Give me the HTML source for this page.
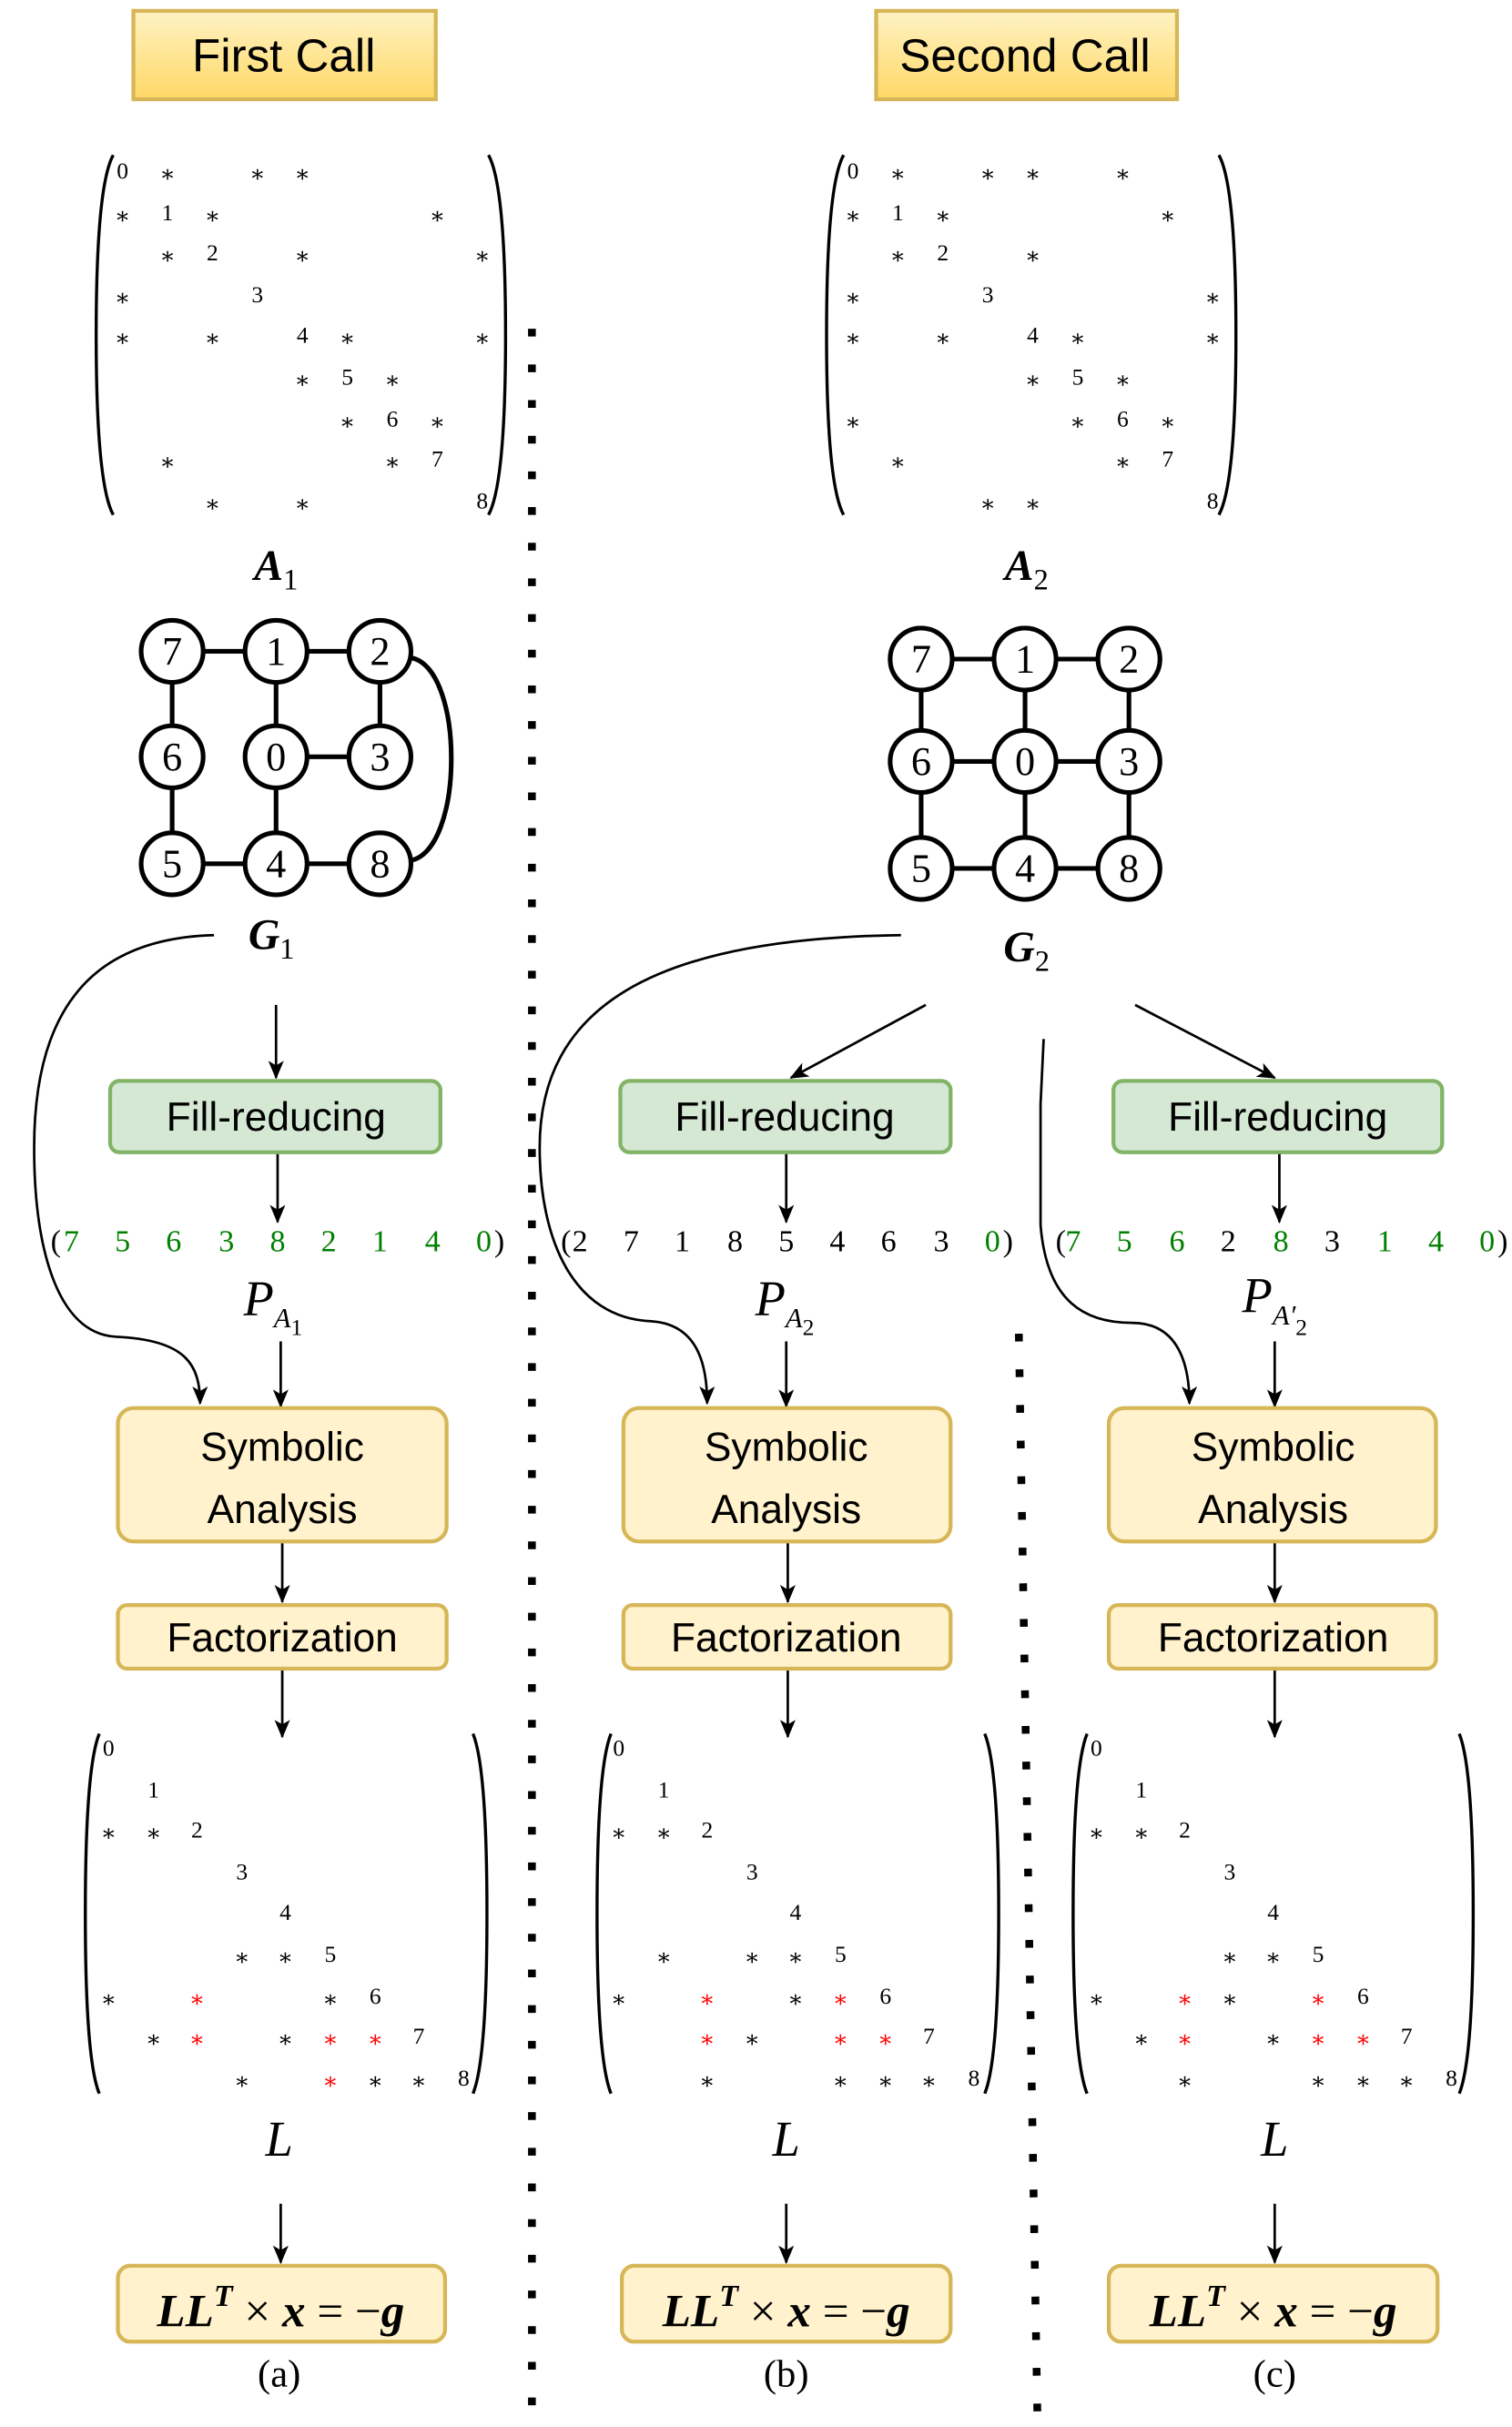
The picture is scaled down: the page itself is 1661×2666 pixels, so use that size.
<!DOCTYPE html>
<html><head><meta charset="utf-8"><style>html,body{margin:0;padding:0;background:#fff}svg{display:block}</style></head>
<body>
<svg width="1661" height="2666" viewBox="0 0 975 1565" xmlns="http://www.w3.org/2000/svg">
<defs>
<linearGradient id="gy" x1="0" y1="0" x2="0" y2="1"><stop offset="0" stop-color="#fff2c4"/><stop offset="1" stop-color="#ffd966"/></linearGradient>
<marker id="ar" viewBox="0 0 12 10" refX="11" refY="5" markerWidth="12" markerHeight="10" markerUnits="userSpaceOnUse" orient="auto"><path d="M0,0 L12,5 L0,10 L3,5 z" fill="#000"/></marker>
</defs>
<rect width="975" height="1565" fill="#fff"/>
<!-- titles -->
<rect x="86" y="7" width="195" height="57" fill="url(#gy)" stroke="#d6b656" stroke-width="2.5"/>
<text x="183" y="46" font-family="Liberation Sans, sans-serif" font-size="30" text-anchor="middle">First Call</text>
<rect x="565" y="7" width="194" height="57" fill="url(#gy)" stroke="#d6b656" stroke-width="2.5"/>
<text x="661" y="46" font-family="Liberation Sans, sans-serif" font-size="30" text-anchor="middle">Second Call</text>

<!-- dotted separators -->
<line x1="343" y1="212" x2="343" y2="1560" stroke="#000" stroke-width="5" stroke-dasharray="5 18"/>
<line x1="657" y1="860" x2="669" y2="1560" stroke="#000" stroke-width="5" stroke-dasharray="5 18"/>

<g fill="none" stroke="#000" stroke-width="2">
<!-- A1 parens -->
<path d="M73,100 Q62,120 62,216 Q62,312 73,332"/><path d="M315,100 Q326,120 326,216 Q326,312 315,332"/>
<path d="M544,100 Q533,120 533,216 Q533,312 544,332"/><path d="M786,100 Q797,120 797,216 Q797,312 786,332"/>
<!-- L parens -->
<path d="M64,1118 Q55,1140 55,1234 Q55,1328 64,1350"/><path d="M305,1118 Q314,1140 314,1234 Q314,1328 305,1350"/>
<path d="M394,1118 Q385,1140 385,1234 Q385,1328 394,1350"/><path d="M635,1118 Q644,1140 644,1234 Q644,1328 635,1350"/>
<path d="M701,1118 Q692,1140 692,1234 Q692,1328 701,1350"/><path d="M941,1118 Q950,1140 950,1234 Q950,1328 941,1350"/>
</g>

<g font-family="Liberation Serif, DejaVu Serif, serif" font-size="15" text-anchor="middle" dominant-baseline="central">
<!-- A1 -->
<text x="79" y="110">0</text><text x="108" y="112">∗</text><text x="166" y="112">∗</text><text x="195" y="112">∗</text>
<text x="79" y="139">∗</text><text x="108" y="137">1</text><text x="137" y="139">∗</text><text x="282" y="139">∗</text>
<text x="108" y="165">∗</text><text x="137" y="163">2</text><text x="195" y="165">∗</text><text x="311" y="165">∗</text>
<text x="79" y="192">∗</text><text x="166" y="190">3</text>
<text x="79" y="218">∗</text><text x="137" y="218">∗</text><text x="195" y="216">4</text><text x="224" y="218">∗</text><text x="311" y="218">∗</text>
<text x="195" y="245">∗</text><text x="224" y="243">5</text><text x="253" y="245">∗</text>
<text x="224" y="272">∗</text><text x="253" y="270">6</text><text x="282" y="272">∗</text>
<text x="108" y="298">∗</text><text x="253" y="298">∗</text><text x="282" y="296">7</text>
<text x="137" y="325">∗</text><text x="195" y="325">∗</text><text x="311" y="323">8</text>
<!-- A2 -->
<text x="550" y="110">0</text><text x="579" y="112">∗</text><text x="637" y="112">∗</text><text x="666" y="112">∗</text><text x="724" y="112">∗</text>
<text x="550" y="139">∗</text><text x="579" y="137">1</text><text x="608" y="139">∗</text><text x="753" y="139">∗</text>
<text x="579" y="165">∗</text><text x="608" y="163">2</text><text x="666" y="165">∗</text>
<text x="550" y="192">∗</text><text x="637" y="190">3</text><text x="782" y="192">∗</text>
<text x="550" y="218">∗</text><text x="608" y="218">∗</text><text x="666" y="216">4</text><text x="695" y="218">∗</text><text x="782" y="218">∗</text>
<text x="666" y="245">∗</text><text x="695" y="243">5</text><text x="724" y="245">∗</text>
<text x="550" y="272">∗</text><text x="695" y="272">∗</text><text x="724" y="270">6</text><text x="753" y="272">∗</text>
<text x="579" y="298">∗</text><text x="724" y="298">∗</text><text x="753" y="296">7</text>
<text x="637" y="325">∗</text><text x="666" y="325">∗</text><text x="782" y="323">8</text>

<!-- L a -->
<text x="70" y="1127">0</text><text x="99" y="1154">1</text>
<text x="70" y="1182">∗</text><text x="99" y="1182">∗</text><text x="127" y="1180">2</text>
<text x="156" y="1207">3</text><text x="184" y="1233">4</text>
<text x="156" y="1262">∗</text><text x="184" y="1262">∗</text><text x="213" y="1260">5</text>
<text x="70" y="1289">∗</text><text x="127" y="1289" fill="#f00">∗</text><text x="213" y="1289">∗</text><text x="242" y="1287">6</text>
<text x="99" y="1315">∗</text><text x="127" y="1315" fill="#f00">∗</text><text x="184" y="1315">∗</text><text x="213" y="1315" fill="#f00">∗</text><text x="242" y="1315" fill="#f00">∗</text><text x="270" y="1313">7</text>
<text x="156" y="1342">∗</text><text x="213" y="1342" fill="#f00">∗</text><text x="242" y="1342">∗</text><text x="270" y="1342">∗</text><text x="299" y="1340">8</text>
<!-- L b -->
<text x="399" y="1127">0</text><text x="428" y="1154">1</text>
<text x="399" y="1182">∗</text><text x="428" y="1182">∗</text><text x="456" y="1180">2</text>
<text x="485" y="1207">3</text><text x="513" y="1233">4</text>
<text x="428" y="1262">∗</text><text x="485" y="1262">∗</text><text x="513" y="1262">∗</text><text x="542" y="1260">5</text>
<text x="399" y="1289">∗</text><text x="456" y="1289" fill="#f00">∗</text><text x="513" y="1289">∗</text><text x="542" y="1289" fill="#f00">∗</text><text x="571" y="1287">6</text>
<text x="456" y="1315" fill="#f00">∗</text><text x="485" y="1315">∗</text><text x="542" y="1315" fill="#f00">∗</text><text x="571" y="1315" fill="#f00">∗</text><text x="599" y="1313">7</text>
<text x="456" y="1342">∗</text><text x="542" y="1342">∗</text><text x="571" y="1342">∗</text><text x="599" y="1342">∗</text><text x="628" y="1340">8</text>
<!-- L c -->
<text x="707" y="1127">0</text><text x="736" y="1154">1</text>
<text x="707" y="1182">∗</text><text x="736" y="1182">∗</text><text x="764" y="1180">2</text>
<text x="793" y="1207">3</text><text x="821" y="1233">4</text>
<text x="793" y="1262">∗</text><text x="821" y="1262">∗</text><text x="850" y="1260">5</text>
<text x="707" y="1289">∗</text><text x="764" y="1289" fill="#f00">∗</text><text x="793" y="1289">∗</text><text x="850" y="1289" fill="#f00">∗</text><text x="879" y="1287">6</text>
<text x="736" y="1315">∗</text><text x="764" y="1315" fill="#f00">∗</text><text x="821" y="1315">∗</text><text x="850" y="1315" fill="#f00">∗</text><text x="879" y="1315" fill="#f00">∗</text><text x="907" y="1313">7</text>
<text x="764" y="1342">∗</text><text x="850" y="1342">∗</text><text x="879" y="1342">∗</text><text x="907" y="1342">∗</text><text x="936" y="1340">8</text>
</g>

<!-- math labels -->
<g font-family="Liberation Serif, DejaVu Serif, serif" font-style="italic" font-weight="bold" font-size="28" text-anchor="middle">
<text x="178" y="374">A<tspan font-size="19" font-style="normal" font-weight="normal" dy="6">1</tspan></text>
<text x="662" y="374">A<tspan font-size="19" font-style="normal" font-weight="normal" dy="6">2</tspan></text>
<text x="175" y="612">G<tspan font-size="19" font-style="normal" font-weight="normal" dy="6">1</tspan></text>
<text x="662" y="620">G<tspan font-size="19" font-style="normal" font-weight="normal" dy="6">2</tspan></text>
<text x="180" y="1390" font-weight="normal" font-size="32">L</text>
<text x="507" y="1390" font-weight="normal" font-size="32">L</text>
<text x="822" y="1390" font-weight="normal" font-size="32">L</text>
<text x="176" y="848" font-weight="normal" font-size="32">P<tspan font-size="18" dy="8">A</tspan><tspan font-size="15" font-style="normal" dy="5">1</tspan></text>
<text x="506" y="848" font-weight="normal" font-size="32">P<tspan font-size="18" dy="8">A</tspan><tspan font-size="15" font-style="normal" dy="5">2</tspan></text>
<text x="822" y="846" font-weight="normal" font-size="32">P<tspan font-size="18" dy="8">A′</tspan><tspan font-size="15" font-style="normal" dy="7">2</tspan></text>
</g>

<!-- graphs -->
<g stroke="#000" stroke-width="3" fill="none">
<path d="M111,420H245M111,420V557M178,420V557M245,420V488M178,488H245M111,557H245"/>
<path d="M264,424 C300,428 300,550 264,555"/>
<path d="M594,425H728M594,491H728M594,560H728M594,425V560M661,425V560M728,425V560"/>
</g>
<g stroke="#000" stroke-width="3" fill="#fff">
<circle cx="111" cy="420" r="20"/><circle cx="178" cy="420" r="20"/><circle cx="245" cy="420" r="20"/>
<circle cx="111" cy="488" r="20"/><circle cx="178" cy="488" r="20"/><circle cx="245" cy="488" r="20"/>
<circle cx="111" cy="557" r="20"/><circle cx="178" cy="557" r="20"/><circle cx="245" cy="557" r="20"/>
<circle cx="594" cy="425" r="20"/><circle cx="661" cy="425" r="20"/><circle cx="728" cy="425" r="20"/>
<circle cx="594" cy="491" r="20"/><circle cx="661" cy="491" r="20"/><circle cx="728" cy="491" r="20"/>
<circle cx="594" cy="560" r="20"/><circle cx="661" cy="560" r="20"/><circle cx="728" cy="560" r="20"/>
</g>
<g font-family="Liberation Serif, serif" font-size="26" text-anchor="middle" dominant-baseline="central">
<text x="111" y="420">7</text><text x="178" y="420">1</text><text x="245" y="420">2</text>
<text x="111" y="488">6</text><text x="178" y="488">0</text><text x="245" y="488">3</text>
<text x="111" y="557">5</text><text x="178" y="557">4</text><text x="245" y="557">8</text>
<text x="594" y="425">7</text><text x="661" y="425">1</text><text x="728" y="425">2</text>
<text x="594" y="491">6</text><text x="661" y="491">0</text><text x="728" y="491">3</text>
<text x="594" y="560">5</text><text x="661" y="560">4</text><text x="728" y="560">8</text>
</g>

<!-- connectors -->
<g stroke="#000" stroke-width="1.6" fill="none" marker-end="url(#ar)">
<path d="M138,603 C60,605 22,650 22,740 C22,800 35,860 75,862 C120,864 129,880 129,905"/>
<path d="M581,603 C420,605 348,650 348,740 C348,800 370,850 420,852 C450,854 456,880 456,905"/>
<path d="M673,670 L671,712 L671,790 C675,840 700,853 730,853 C760,853 767,880 767,905"/>
<path d="M178,648 V695"/><path d="M179,743 V788"/><path d="M181,865 V907"/><path d="M182,995 V1033"/><path d="M182,1077 V1120"/><path d="M181,1421 V1459"/>
<path d="M597,648 L510,695"/><path d="M507,743 V788"/><path d="M507,865 V907"/><path d="M508,995 V1033"/><path d="M508,1077 V1120"/><path d="M507,1421 V1459"/>
<path d="M732,648 L822,695"/><path d="M825,743 V788"/><path d="M822,865 V907"/><path d="M822,995 V1033"/><path d="M822,1077 V1120"/><path d="M822,1421 V1459"/>
</g>

<!-- boxes -->
<g stroke-width="2.5">
<rect x="71" y="697" width="213" height="46" rx="6" fill="#d5e8d4" stroke="#82b366"/>
<rect x="400" y="697" width="213" height="46" rx="6" fill="#d5e8d4" stroke="#82b366"/>
<rect x="718" y="697" width="212" height="46" rx="6" fill="#d5e8d4" stroke="#82b366"/>
<rect x="76" y="908" width="212" height="86" rx="10" fill="#fff2cc" stroke="#d6b656"/>
<rect x="402" y="908" width="211" height="86" rx="10" fill="#fff2cc" stroke="#d6b656"/>
<rect x="715" y="908" width="211" height="86" rx="10" fill="#fff2cc" stroke="#d6b656"/>
<rect x="76" y="1035" width="212" height="41" rx="6" fill="#fff2cc" stroke="#d6b656"/>
<rect x="402" y="1035" width="211" height="41" rx="6" fill="#fff2cc" stroke="#d6b656"/>
<rect x="715" y="1035" width="211" height="41" rx="6" fill="#fff2cc" stroke="#d6b656"/>
<rect x="76" y="1461" width="211" height="49" rx="8" fill="#fff2cc" stroke="#d6b656"/>
<rect x="401" y="1461" width="212" height="49" rx="8" fill="#fff2cc" stroke="#d6b656"/>
<rect x="715" y="1461" width="212" height="49" rx="8" fill="#fff2cc" stroke="#d6b656"/>
</g>
<g font-family="Liberation Sans, sans-serif" font-size="26" text-anchor="middle">
<text x="178" y="729">Fill-reducing</text><text x="506" y="729">Fill-reducing</text><text x="824" y="729">Fill-reducing</text>
<text x="182" y="942">Symbolic</text><text x="182" y="982">Analysis</text>
<text x="507" y="942">Symbolic</text><text x="507" y="982">Analysis</text>
<text x="821" y="942">Symbolic</text><text x="821" y="982">Analysis</text>
<text x="182" y="1065">Factorization</text><text x="507" y="1065">Factorization</text><text x="821" y="1065">Factorization</text>
</g>
<g font-family="Liberation Serif, serif" font-size="30" text-anchor="middle" font-style="italic" font-weight="bold">
<text x="181" y="1500">LL<tspan font-size="20" dy="-13">T</tspan><tspan dy="13" font-style="normal" font-weight="normal"> × </tspan>x<tspan font-style="normal" font-weight="normal"> = −</tspan>g</text>
<text x="507" y="1500">LL<tspan font-size="20" dy="-13">T</tspan><tspan dy="13" font-style="normal" font-weight="normal"> × </tspan>x<tspan font-style="normal" font-weight="normal"> = −</tspan>g</text>
<text x="821" y="1500">LL<tspan font-size="20" dy="-13">T</tspan><tspan dy="13" font-style="normal" font-weight="normal"> × </tspan>x<tspan font-style="normal" font-weight="normal"> = −</tspan>g</text>
</g>
<g font-family="Liberation Serif, serif" font-size="25" text-anchor="middle">
<text x="180" y="1539">(a)</text><text x="507" y="1539">(b)</text><text x="822" y="1539">(c)</text>
</g>

<!-- permutations -->
<g font-family="Liberation Serif, serif" font-size="20" text-anchor="middle" fill="#008000">
<text x="36" y="807" fill="#000">(</text>
<text x="46" y="807">7</text><text x="79" y="807">5</text><text x="112" y="807">6</text><text x="146" y="807">3</text><text x="179" y="807">8</text><text x="212" y="807">2</text><text x="245" y="807">1</text><text x="279" y="807">4</text><text x="312" y="807">0</text>
<text x="322" y="807" fill="#000">)</text>
<text x="365" y="807" fill="#000">(</text>
<g fill="#000"><text x="374" y="807">2</text><text x="407" y="807">7</text><text x="440" y="807">1</text><text x="474" y="807">8</text><text x="507" y="807">5</text><text x="540" y="807">4</text><text x="573" y="807">6</text><text x="607" y="807">3</text></g><text x="640" y="807">0</text>
<text x="650" y="807" fill="#000">)</text>
<text x="684" y="807" fill="#000">(</text>
<text x="692" y="807">7</text><text x="725" y="807">5</text><text x="759" y="807">6</text><text x="792" y="807" fill="#000">2</text><text x="826" y="807">8</text><text x="859" y="807" fill="#000">3</text><text x="893" y="807">1</text><text x="926" y="807">4</text><text x="959" y="807">0</text>
<text x="969" y="807" fill="#000">)</text>
</g>
</svg>
</body></html>
